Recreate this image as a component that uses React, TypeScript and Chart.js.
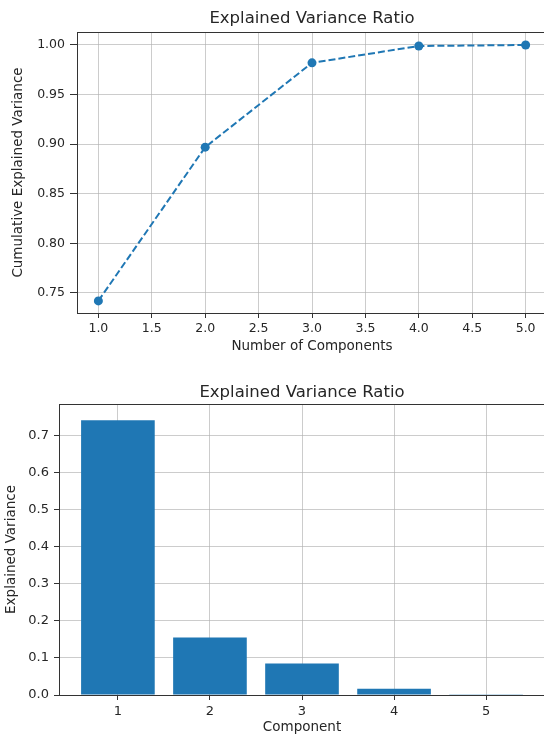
import { useEffect, useRef } from 'react';
import { Chart, registerables } from 'chart.js';

Chart.register(...registerables);

// ---- data ----
const components = [1, 2, 3, 4, 5];
const cumulativeVariance = [0.742, 0.897, 0.982, 0.999, 1.0];
const varianceRatio = [0.742, 0.155, 0.085, 0.017, 0.0004];

const lineXTicks = [1.0, 1.5, 2.0, 2.5, 3.0, 3.5, 4.0, 4.5, 5.0];
const lineYTicks = [0.75, 0.8, 0.85, 0.9, 0.95, 1.0];
const barXTicks = [1, 2, 3, 4, 5];
const barYTicks = [0, 0.1, 0.2, 0.3, 0.4, 0.5, 0.6, 0.7];

const titleText = 'Explained Variance Ratio';

// ---- styles ----
const FAMILY = '"DejaVu Sans", sans-serif';
const BLUE = '#1f77b4';
const GRID = 'rgba(176,176,176,0.65)';
const SPINE = '#333333';
const TEXT = '#262626';

const framePlugin = {
  id: 'frame',
  afterDraw(chart: any) {
    const { ctx, chartArea: a } = chart;
    ctx.save();
    ctx.strokeStyle = SPINE;
    ctx.lineWidth = 1;
    ctx.strokeRect(
      Math.round(a.left) + 0.5,
      Math.round(a.top) + 0.5,
      Math.round(a.right - a.left),
      Math.round(a.bottom - a.top)
    );
    ctx.restore();
  },
};

function setTicks(values: number[]) {
  return (scale: any) => {
    scale.ticks = values.map((v) => ({ value: v }));
  };
}

function fixSize(dim: 'width' | 'height', size: number) {
  return (s: any) => {
    s[dim] = size;
    s.paddingLeft = 0;
    s.paddingRight = 0;
    s.paddingTop = 0;
    s.paddingBottom = 0;
  };
}

export default function App() {
  const topRef = useRef<HTMLCanvasElement | null>(null);
  const botRef = useRef<HTMLCanvasElement | null>(null);

  useEffect(() => {
    const topChart = new Chart(topRef.current as HTMLCanvasElement, {
      type: 'line',
      data: {
        datasets: [
          {
            data: components.map((c, i) => ({ x: c, y: cumulativeVariance[i] })),
            borderColor: BLUE,
            backgroundColor: BLUE,
            borderWidth: 2,
            borderDash: [7, 3],
            pointRadius: 4.5,
            pointBackgroundColor: BLUE,
            pointBorderWidth: 0,
            tension: 0,
            fill: false,
          },
        ],
      },
      options: {
        animation: false,
        responsive: false,
        layout: { padding: 0, autoPadding: false },
        plugins: {
          legend: { display: false },
          tooltip: { enabled: false },
          title: {
            display: true,
            text: titleText,
            fullSize: false,
            color: TEXT,
            font: { family: FAMILY, size: 16.5, weight: 'normal' },
            padding: { top: 9, bottom: 3.2 },
          },
        },
        scales: {
          x: {
            type: 'linear',
            min: 0.8,
            max: 5.2,
            afterBuildTicks: setTicks(lineXTicks),
            afterFit: fixSize('height', 57),
            ticks: {
              callback: (v: any) => Number(v).toFixed(1),
              color: TEXT,
              font: { family: FAMILY, size: 12.5 },
              padding: 3,
              maxRotation: 0,
              autoSkip: false,
            },
            grid: { color: GRID, lineWidth: 1, tickLength: 5, tickColor: SPINE },
            border: { display: false },
            title: {
              display: true,
              text: 'Number of Components',
              color: TEXT,
              font: { family: FAMILY, size: 13.5 },
              padding: { top: 0, bottom: 15 },
            },
          },
          y: {
            type: 'linear',
            min: 0.7298,
            max: 1.0131,
            afterBuildTicks: setTicks(lineYTicks),
            afterFit: fixSize('width', 77),
            ticks: {
              callback: (v: any) => Number(v).toFixed(2),
              color: TEXT,
              font: { family: FAMILY, size: 12.5 },
              padding: 5,
              autoSkip: false,
            },
            grid: { color: GRID, lineWidth: 1, tickLength: 7, tickColor: SPINE },
            border: { display: false },
            title: {
              display: true,
              text: 'Cumulative Explained Variance',
              color: TEXT,
              font: { family: FAMILY, size: 13.5 },
              padding: { top: 10, bottom: 0 },
            },
          },
        },
      },
      plugins: [framePlugin],
    } as any);

    const botChart = new Chart(botRef.current as HTMLCanvasElement, {
      type: 'bar',
      data: {
        datasets: [
          {
            data: components.map((c, i) => ({ x: c, y: varianceRatio[i] })),
            backgroundColor: BLUE,
            borderWidth: 0,
            barPercentage: 0.8,
            categoryPercentage: 1.0,
          },
        ],
      },
      options: {
        animation: false,
        responsive: false,
        layout: { padding: 0, autoPadding: false },
        plugins: {
          legend: { display: false },
          tooltip: { enabled: false },
          title: {
            display: true,
            text: titleText,
            fullSize: false,
            color: TEXT,
            font: { family: FAMILY, size: 16.5, weight: 'normal' },
            padding: { top: 12.5, bottom: 1.7 },
          },
        },
        scales: {
          x: {
            type: 'linear',
            min: 0.36,
            max: 5.64,
            offset: false,
            z: 1,
            afterBuildTicks: setTicks(barXTicks),
            afterFit: fixSize('height', 41),
            ticks: {
              callback: (v: any) => String(Math.round(Number(v))),
              color: TEXT,
              font: { family: FAMILY, size: 13 },
              padding: 4,
              maxRotation: 0,
              autoSkip: false,
            },
            grid: { offset: false, color: GRID, lineWidth: 1, tickLength: 5, tickColor: SPINE },
            border: { display: false },
            title: {
              display: true,
              text: 'Component',
              color: TEXT,
              font: { family: FAMILY, size: 13.5 },
              padding: { top: 0, bottom: 0 },
            },
          },
          y: {
            type: 'linear',
            min: 0,
            max: 0.786,
            z: 1,
            afterBuildTicks: setTicks(barYTicks),
            afterFit: fixSize('width', 59),
            ticks: {
              callback: (v: any) => Number(v).toFixed(1),
              color: TEXT,
              font: { family: FAMILY, size: 13 },
              padding: 5,
              autoSkip: false,
            },
            grid: { color: GRID, lineWidth: 1, tickLength: 5, tickColor: SPINE },
            border: { display: false },
            title: {
              display: true,
              text: 'Explained Variance',
              color: TEXT,
              font: { family: FAMILY, size: 13.5 },
              padding: { top: 3.5, bottom: 0 },
            },
          },
        },
      },
      plugins: [framePlugin],
    } as any);

    return () => {
      topChart.destroy();
      botChart.destroy();
    };
  }, []);

  return (
    <div
      style={{
        position: 'absolute',
        left: 0,
        top: 0,
        width: 544,
        height: 736,
        overflow: 'hidden',
        background: '#ffffff',
      }}
    >
      <canvas
        ref={topRef}
        width={547}
        height={370}
        style={{ position: 'absolute', left: 0, top: 0, width: 547, height: 370, display: 'block' }}
      />
      <canvas
        ref={botRef}
        width={545}
        height={366}
        style={{ position: 'absolute', left: 0, top: 370, width: 545, height: 366, display: 'block' }}
      />
    </div>
  );
}
